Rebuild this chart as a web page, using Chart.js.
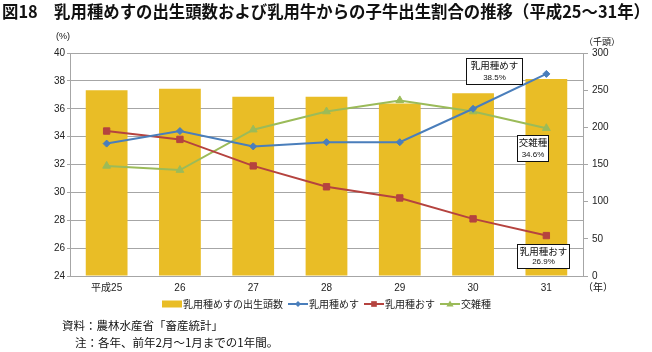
<!DOCTYPE html>
<html><head><meta charset="utf-8">
<script src="https://cdn.jsdelivr.net/npm/chart.js@4.4.1/dist/chart.umd.min.js"></script>
<style>html,body{margin:0;padding:0;background:#fff;}#wrap{width:652px;height:352px;}</style>
</head><body><div id="wrap"><canvas id="c" width="652" height="352"></canvas></div>
<script>
const titleText = '図18\u3000乳用種めすの出生頭数および乳用牛からの子牛出生割合の推移（平成25～31年）';
const categories = ['平成25', '26', '27', '28', '29', '30', '31'];
const femaleBirthsK = [250, 252, 241, 241, 232, 246, 265];
const dairyFemalePct = [33.5, 34.4, 33.3, 33.6, 33.6, 36.0, 38.5];
const dairyMalePct = [34.4, 33.8, 31.9, 30.4, 29.6, 28.1, 26.9];
const crossbredPct = [31.9, 31.6, 34.5, 35.8, 36.6, 35.8, 34.6];
const seriesNames = ['乳用種めすの出生頭数', '乳用種めす', '乳用種おす', '交雑種'];
const leftAxis = {min: 24, max: 40, step: 2, unit: '(%)'};
const rightAxis = {min: 0, max: 300, step: 50, unit: '（千頭）'};
const xUnit = '（年）';
const endLabels = [
  {series: 1, lines: ['乳用種めす', '38.5%']},
  {series: 3, lines: ['交雑種', '34.6%']},
  {series: 2, lines: ['乳用種おす', '26.9%']}
];
const footnotes = ['資料：農林水産省「畜産統計」', '注：各年、前年2月～1月までの1年間。'];

const FONT = '"Liberation Sans", "Noto Sans CJK JP", sans-serif';
const JFONT = '"Noto Sans CJK JP", sans-serif';
const C_BAR = '#E9BD26', C_BLUE = '#4A7EBB', C_RED = '#B5433F', C_GREEN = '#9BBB59';
const GRID = '#A6A6A6';

Chart.defaults.font.family = FONT;
Chart.defaults.color = '#222';

function drawMarker(ctx, style, x, y, r, color) {
  ctx.save();
  ctx.fillStyle = color; ctx.strokeStyle = color; ctx.lineWidth = 1;
  ctx.beginPath();
  if (style === 'rectRot') { ctx.moveTo(x - r, y); ctx.lineTo(x, y - r); ctx.lineTo(x + r, y); ctx.lineTo(x, y + r); ctx.closePath(); }
  else if (style === 'rect') { const s = r * Math.SQRT1_2; ctx.rect(x - s, y - s, 2 * s, 2 * s); }
  else if (style === 'triangle') { const h = r * 0.9; ctx.moveTo(x, y - h); ctx.lineTo(x + h, y + h * 0.7); ctx.lineTo(x - h, y + h * 0.7); ctx.closePath(); }
  ctx.fill(); ctx.restore();
}

const extras = {
  id: 'extras',
  afterDraw(chart) {
    const ctx = chart.ctx, ca = chart.chartArea;
    ctx.save();
    // title
    ctx.fillStyle = '#111';
    ctx.font = 'bold 17px ' + JFONT;
    ctx.textBaseline = 'middle'; ctx.textAlign = 'left';
    ctx.fillText(titleText, 2, 12, 648);
    // axis units
    ctx.font = '9px ' + FONT;
    ctx.textAlign = 'center';
    ctx.fillText(leftAxis.unit, 63, 37);
    ctx.fillText(rightAxis.unit, 602, 43);
    ctx.font = '10px ' + FONT;
    ctx.fillText(xUnit, 598, 288);
    // legend
    const items = [
      {kind: 'bar', color: C_BAR},
      {kind: 'line', color: C_BLUE, style: 'rectRot', r: 3},
      {kind: 'line', color: C_RED, style: 'rect', r: 4},
      {kind: 'line', color: C_GREEN, style: 'triangle', r: 4}
    ];
    ctx.font = '10px ' + JFONT;
    const symW = 20, gapT = 1, gapI = 5;
    let total = 0;
    items.forEach((it, i) => { total += symW + gapT + ctx.measureText(seriesNames[i]).width + (i < items.length - 1 ? gapI : 0); });
    let x = (ca.left + ca.right) / 2 - total / 2;
    const ly = 304;
    ctx.textAlign = 'left'; ctx.textBaseline = 'middle';
    items.forEach((it, i) => {
      if (it.kind === 'bar') { ctx.fillStyle = it.color; ctx.fillRect(x, ly - 3.5, symW, 7); }
      else {
        ctx.strokeStyle = it.color; ctx.lineWidth = 2;
        ctx.beginPath(); ctx.moveTo(x, ly); ctx.lineTo(x + symW, ly); ctx.stroke();
        drawMarker(ctx, it.style, x + symW / 2, ly, it.r, it.color);
      }
      x += symW + gapT;
      ctx.fillStyle = '#222';
      ctx.fillText(seriesNames[i], x, ly + 0.5);
      x += ctx.measureText(seriesNames[i]).width + gapI;
    });
    // end-point callout boxes
    const offs = [[-52, -3, 56, 26], [-14, 20, 31, 26], [-3, 20, 52, 24]];
    endLabels.forEach((lab, k) => {
      const meta = chart.getDatasetMeta(lab.series);
      const p = meta.data[meta.data.length - 1];
      const [dx, dy, w, h] = offs[k];
      const cx = p.x + dx, cy = p.y + dy;
      const bx = Math.round(cx - w / 2) + 0.5, by = Math.round(cy - h / 2) + 0.5;
      ctx.fillStyle = '#fff'; ctx.fillRect(bx, by, w, h);
      ctx.strokeStyle = '#111'; ctx.lineWidth = 1; ctx.strokeRect(bx, by, w, h);
      ctx.fillStyle = '#111'; ctx.textAlign = 'center';
      ctx.font = '9.5px ' + JFONT;
      ctx.fillText(lab.lines[0], bx + w / 2, by + 7);
      ctx.font = '8px ' + FONT;
      ctx.fillText(lab.lines[1], bx + w / 2, by + h - 6.5);
    });
    // footnotes
    ctx.fillStyle = '#111';
    ctx.font = '11.5px ' + JFONT;
    ctx.textAlign = 'left';
    ctx.fillText(footnotes[0], 62, 326, 166);
    ctx.fillText(footnotes[1], 75, 343, 209);
    ctx.restore();
  }
};

new Chart(document.getElementById('c'), {
  type: 'bar',
  data: {
    labels: categories,
    datasets: [
      {type: 'bar', label: seriesNames[0], data: femaleBirthsK, yAxisID: 'y1', backgroundColor: C_BAR,
       categoryPercentage: 1, barPercentage: 0.57, order: 10},
      {type: 'line', label: seriesNames[1], data: dairyFemalePct, yAxisID: 'y', borderColor: C_BLUE, backgroundColor: C_BLUE,
       borderWidth: 2, pointStyle: 'rectRot', pointRadius: 3.5, pointBorderWidth: 1, tension: 0, order: 1},
      {type: 'line', label: seriesNames[2], data: dairyMalePct, yAxisID: 'y', borderColor: C_RED, backgroundColor: C_RED,
       borderWidth: 2, pointStyle: 'rect', pointRadius: 4.5, pointBorderWidth: 1, tension: 0, order: 2},
      {type: 'line', label: seriesNames[3], data: crossbredPct, yAxisID: 'y', borderColor: C_GREEN, backgroundColor: C_GREEN,
       borderWidth: 2, pointStyle: 'triangle', pointRadius: 4.5, pointBorderWidth: 1, tension: 0, order: 3}
    ]
  },
  options: {
    responsive: false, animation: false,
    layout: {padding: {top: 53, left: 0, right: 0, bottom: 0}},
    plugins: {legend: {display: false}, tooltip: {enabled: false}, title: {display: false}},
    scales: {
      x: {
        offset: true,
        grid: {display: false, drawTicks: false, tickLength: 0},
        border: {display: true, color: GRID, width: 1},
        ticks: {padding: 6, font: {size: 10}, color: '#222', maxRotation: 0},
        afterFit: s => { s.height = 76; }
      },
      y: {
        position: 'left', min: leftAxis.min, max: leftAxis.max,
        ticks: {stepSize: leftAxis.step, padding: 2, font: {size: 10}, color: '#222'},
        grid: {color: GRID, lineWidth: 1, tickLength: 3},
        border: {display: true, color: GRID, width: 1},
        afterFit: s => { s.width = 70; }
      },
      y1: {
        position: 'right', min: rightAxis.min, max: rightAxis.max,
        ticks: {stepSize: rightAxis.step, padding: 4, font: {size: 10}, color: '#222'},
        grid: {drawOnChartArea: false, color: GRID, tickLength: 5},
        border: {display: true, color: GRID, width: 1},
        afterFit: s => { s.width = 69; }
      }
    }
  },
  plugins: [extras]
});
</script>
</body></html>
